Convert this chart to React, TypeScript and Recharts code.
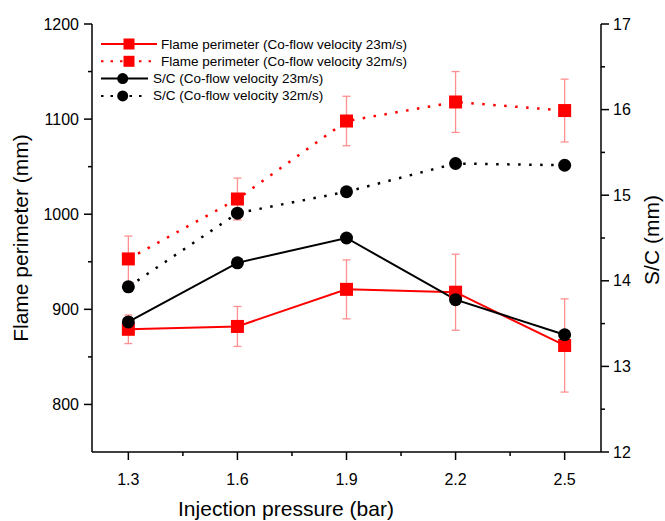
import { ComposedChart, Line, XAxis, YAxis, ErrorBar, Legend } from 'recharts'

// injection pressure (bar)
const pressure = [1.3, 1.6, 1.9, 2.2, 2.5]

// flame perimeter (mm) with error
const flame23 = [879, 882, 921, 918, 862]
const flame23Err = [15, 21, 31, 40, 49]
const flame32 = [953, 1016, 1098, 1118, 1109]
const flame32Err = [24, 22, 26, 32, 33]

// S/C (mm)
const sc23 = [13.52, 14.21, 14.5, 13.78, 13.37]
const sc32 = [13.93, 14.79, 15.04, 15.37, 15.35]

// ticks (all) and labelled ones
const xTicks = [1.3, 1.45, 1.6, 1.75, 1.9, 2.05, 2.2, 2.35, 2.5]
const xLabels = [1.3, 1.6, 1.9, 2.2, 2.5]
const leftTicks = [800, 850, 900, 950, 1000, 1050, 1100, 1150, 1200]
const leftLabels = [800, 900, 1000, 1100, 1200]
const rightTicks = [12, 12.5, 13, 13.5, 14, 14.5, 15, 15.5, 16, 16.5, 17]
const rightLabels = [12, 13, 14, 15, 16, 17]

const data = pressure.map((p, i) => ({
  p,
  flame23: flame23[i],
  flame23Err: flame23Err[i],
  flame32: flame32[i],
  flame32Err: flame32Err[i],
  sc23: sc23[i],
  sc32: sc32[i],
}))

const FONT = '"Liberation Sans", Arial, sans-serif'
const RED = '#ff0000'
const ERR = '#ff9090'

const legendRows = [
  { label: 'Flame perimeter (Co-flow velocity 23m/s)', color: RED, dotted: false, square: true },
  { label: 'Flame perimeter (Co-flow velocity 32m/s)', color: RED, dotted: true, square: true },
  { label: 'S/C (Co-flow velocity 23m/s)', color: '#000', dotted: false, square: false },
  { label: 'S/C (Co-flow velocity 32m/s)', color: '#000', dotted: true, square: false },
]

const squareDot = (props: any) => {
  const { cx, cy, index } = props
  return <rect key={`sq-${index}`} x={cx - 6.5} y={cy - 6.5} width={13} height={13} fill={RED} />
}

const circleDot = (props: any) => {
  const { cx, cy, index } = props
  return <circle key={`ci-${index}`} cx={cx} cy={cy} r={6.5} fill="#000" />
}

function BottomTick({ x, y, payload }: any) {
  const major = xLabels.includes(payload.value)
  return (
    <g>
      <line x1={x} x2={x} y1={y} y2={y + (major ? 8 : 4)} stroke="#000" strokeWidth={1.5} />
      {major && (
        <text x={x} y={y + 27} textAnchor="middle" dominantBaseline="central" fontSize={16} fontFamily={FONT} fill="#000">
          {payload.value.toFixed(1)}
        </text>
      )}
    </g>
  )
}

function TopTick({ x, y }: any) {
  return <line x1={x} x2={x} y1={y} y2={y + 6} stroke="#000" strokeWidth={1.5} />
}

function LeftTick({ x, y, payload }: any) {
  const major = leftLabels.includes(payload.value)
  return (
    <g>
      <line x1={x} x2={x - (major ? 8 : 4)} y1={y} y2={y} stroke="#000" strokeWidth={1.5} />
      {major && (
        <text x={x - 13} y={y} textAnchor="end" dominantBaseline="central" fontSize={16} fontFamily={FONT} fill="#000">
          {payload.value}
        </text>
      )}
    </g>
  )
}

function RightTick({ x, y, payload }: any) {
  const major = rightLabels.includes(payload.value)
  return (
    <g>
      <line x1={x} x2={x + (major ? 8 : 4)} y1={y} y2={y} stroke="#000" strokeWidth={1.5} />
      {major && (
        <text x={x + 12} y={y} textAnchor="start" dominantBaseline="central" fontSize={16} fontFamily={FONT} fill="#000">
          {payload.value}
        </text>
      )}
    </g>
  )
}

function LegendBox() {
  return (
    <svg width={340} height={75}>
      {legendRows.map((row, i) => {
        const cy = 10 + i * 17.3
        const lineEnd = row.square ? 59 : 50
        const mx = row.square ? 31 : 24.7
        const tx = row.square ? 63 : 55
        return (
          <g key={row.label}>
            <line
              x1={3}
              x2={lineEnd}
              y1={cy}
              y2={cy}
              stroke={row.color}
              strokeWidth={2}
              strokeDasharray={row.dotted ? '2.5 7' : undefined}
            />
            {row.square ? (
              <rect x={mx - 5.5} y={cy - 5.5} width={11} height={11} fill={row.color} />
            ) : (
              <circle cx={mx} cy={cy} r={5.5} fill={row.color} />
            )}
            <text x={tx} y={cy} dominantBaseline="central" fontSize={13.5} fontFamily={FONT} fill="#000">
              {row.label}
            </text>
          </g>
        )
      })}
    </svg>
  )
}

export default function App() {
  return (
    <div style={{ position: 'absolute', left: 0, top: 0 }}>
      <ComposedChart width={665} height={521} data={data} margin={{ top: 24, right: 0, bottom: 0, left: 0 }}>
        <XAxis
          xAxisId="bottom"
          dataKey="p"
          type="number"
          domain={[1.2, 2.6]}
          ticks={xTicks}
          interval={0}
          height={69}
          tickSize={0}
          tickMargin={0}
          tickLine={false}
          axisLine={{ stroke: '#000', strokeWidth: 1.5 }}
          tick={<BottomTick />}
          label={() => (
            <text x={286} y={508} textAnchor="middle" dominantBaseline="central" fontSize={21} fontFamily={FONT} fill="#000">
              Injection pressure (bar)
            </text>
          )}
        />
        <XAxis
          xAxisId="top"
          orientation="top"
          dataKey="p"
          type="number"
          domain={[1.2, 2.6]}
          ticks={xTicks}
          interval={0}
          height={0}
          tickSize={0}
          tickMargin={0}
          tickLine={false}
          axisLine={{ stroke: '#000', strokeWidth: 1.5 }}
          tick={<TopTick />}
        />
        <YAxis
          yAxisId="left"
          domain={[750, 1200]}
          ticks={leftTicks}
          interval={0}
          width={92}
          tickSize={0}
          tickMargin={0}
          tickLine={false}
          axisLine={{ stroke: '#000', strokeWidth: 1.5 }}
          tick={<LeftTick />}
          label={() => (
            <text x={20} y={238} transform="rotate(-90 20 238)" textAnchor="middle" dominantBaseline="central" fontSize={21} fontFamily={FONT} fill="#000">
              Flame perimeter (mm)
            </text>
          )}
        />
        <YAxis
          yAxisId="right"
          orientation="right"
          domain={[12, 17]}
          ticks={rightTicks}
          interval={0}
          width={64}
          tickSize={0}
          tickMargin={0}
          tickLine={false}
          axisLine={{ stroke: '#000', strokeWidth: 1.5 }}
          tick={<RightTick />}
          label={() => (
            <text x={651} y={240} transform="rotate(-90 651 240)" textAnchor="middle" dominantBaseline="central" fontSize={21} fontFamily={FONT} fill="#000">
              S/C (mm)
            </text>
          )}
        />

        <Line
          xAxisId="bottom"
          yAxisId="left"
          dataKey="flame23"
          stroke={RED}
          strokeWidth={2}
          dot={squareDot}
          activeDot={false}
          isAnimationActive={false}
        >
          <ErrorBar dataKey="flame23Err" width={4} stroke={ERR} strokeWidth={1.3} direction="y" />
        </Line>
        <Line
          xAxisId="bottom"
          yAxisId="left"
          dataKey="flame32"
          stroke={RED}
          strokeWidth={2.5}
          strokeDasharray="2.5 8.5"
          dot={squareDot}
          activeDot={false}
          isAnimationActive={false}
        >
          <ErrorBar dataKey="flame32Err" width={4} stroke={ERR} strokeWidth={1.3} direction="y" />
        </Line>
        <Line
          xAxisId="bottom"
          yAxisId="right"
          dataKey="sc23"
          stroke="#000"
          strokeWidth={2}
          dot={circleDot}
          activeDot={false}
          isAnimationActive={false}
        />
        <Line
          xAxisId="bottom"
          yAxisId="right"
          dataKey="sc32"
          stroke="#000"
          strokeWidth={2.5}
          strokeDasharray="2.5 8.5"
          dot={circleDot}
          activeDot={false}
          isAnimationActive={false}
        />

        <Legend
          layout="vertical"
          align="center"
          verticalAlign="middle"
          wrapperStyle={{ left: 98, top: 34, width: 340, height: 75 }}
          content={() => <LegendBox />}
        />
      </ComposedChart>
    </div>
  )
}
